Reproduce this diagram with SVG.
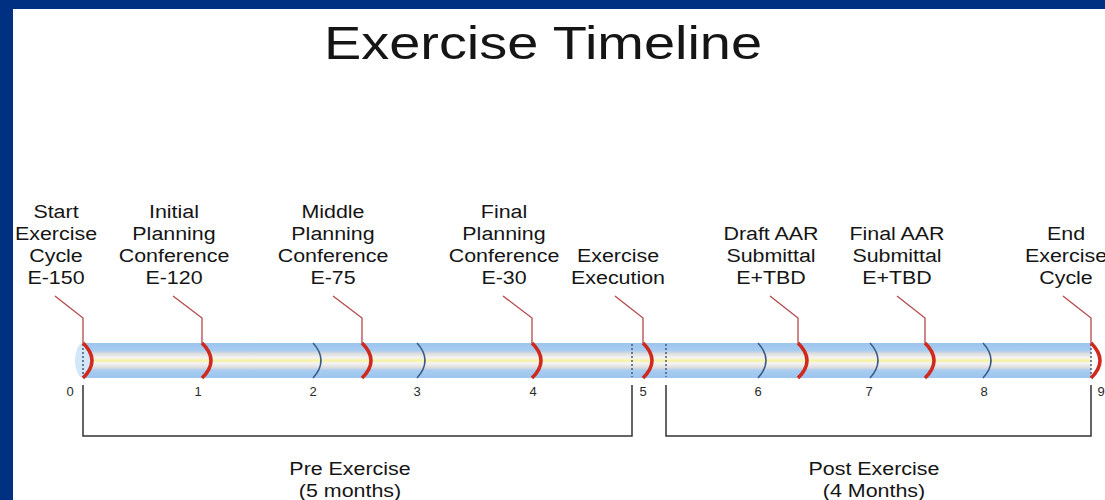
<svg xmlns="http://www.w3.org/2000/svg" width="1105" height="500" viewBox="0 0 1105 500">
<defs>
<linearGradient id="tube" x1="0" y1="0" x2="0" y2="1">
<stop offset="0" stop-color="#9cc4ee"/>
<stop offset="0.22" stop-color="#a9cdf0"/>
<stop offset="0.3" stop-color="#dddddd"/>
<stop offset="0.42" stop-color="#f4f4f4"/>
<stop offset="0.5" stop-color="#f6f2a4"/>
<stop offset="0.58" stop-color="#f4f4f4"/>
<stop offset="0.7" stop-color="#dddddd"/>
<stop offset="0.78" stop-color="#a9cdf0"/>
<stop offset="1" stop-color="#9cc4ee"/>
</linearGradient>
<path id="redArc" d="M0,343 Q18,360.5 0,378"/>
<path id="blueArc" d="M0,343 Q16,360.5 0,378"/>
</defs>
<style>
text{font-family:"Liberation Sans",Arial,sans-serif;fill:#151515;text-anchor:middle}
.lbl{font-size:18px}
.num{font-size:13px;fill:#2a2a2a}
.title{font-size:47px}
.red{fill:none;stroke:#d02a1f;stroke-width:3.6}
.blue{fill:none;stroke:#3b5a85;stroke-width:1.5}
.lead{fill:none;stroke:#b5484a;stroke-width:1.3}
.dot{stroke:#4a5a7a;stroke-width:1.5;stroke-dasharray:2 2}
.brk{fill:none;stroke:#333;stroke-width:1.5}
</style>
<rect width="1105" height="500" fill="#ffffff"/>
<rect x="0" y="0" width="1105" height="9" fill="#003082"/>
<rect x="0" y="0" width="13" height="500" fill="#003082"/>

<g id="title" transform="translate(543 0) scale(1.19 1)"><text class="title" x="0" y="59">Exercise Timeline</text></g>

<g id="timeline">
<rect x="83" y="343" width="1008" height="35" fill="url(#tube)"/>
<ellipse cx="83" cy="360.5" rx="8" ry="17.5" fill="#d2e7f7"/>
<line class="dot" x1="83" y1="344" x2="83" y2="377"/>
<line class="dot" x1="632" y1="344" x2="632" y2="377"/>
<line class="dot" x1="666" y1="344" x2="666" y2="377"/>
<line class="dot" x1="1091" y1="344" x2="1091" y2="377"/>
<use href="#blueArc" class="blue" x="313"/>
<use href="#blueArc" class="blue" x="417"/>
<use href="#blueArc" class="blue" x="758"/>
<use href="#blueArc" class="blue" x="870"/>
<use href="#blueArc" class="blue" x="983"/>
</g>

<g id="months">
<text class="num" x="70" y="396">0</text>
<text class="num" x="198" y="396">1</text>
<text class="num" x="313" y="396">2</text>
<text class="num" x="417" y="396">3</text>
<text class="num" x="533" y="396">4</text>
<text class="num" x="643" y="396">5</text>
<text class="num" x="758" y="396">6</text>
<text class="num" x="869" y="396">7</text>
<text class="num" x="984" y="396">8</text>
<text class="num" x="1101" y="396">9</text>
</g>

<g id="connectors">
<polyline class="lead" points="55,296 83,318 83,343"/>
<polyline class="lead" points="173,296 202,318 202,343"/>
<polyline class="lead" points="333,296 362,318 362,343"/>
<polyline class="lead" points="503,296 532,318 532,343"/>
<polyline class="lead" points="615,296 643,318 643,343"/>
<polyline class="lead" points="770,296 798,318 798,343"/>
<polyline class="lead" points="897,296 925,318 925,343"/>
<polyline class="lead" points="1063,296 1091,318 1091,343"/>
</g>

<g id="m-start">
<use href="#redArc" class="red" x="83"/>
<g transform="translate(56 0) scale(1.19 1)">
<text class="lbl" x="0" y="218">Start</text>
<text class="lbl" x="0" y="240">Exercise</text>
<text class="lbl" x="0" y="262">Cycle</text>
<text class="lbl" x="0" y="284">E-150</text>
</g>
</g>

<g id="m-initial">
<use href="#redArc" class="red" x="202"/>
<g transform="translate(174 0) scale(1.19 1)">
<text class="lbl" x="0" y="218">Initial</text>
<text class="lbl" x="0" y="240">Planning</text>
<text class="lbl" x="0" y="262">Conference</text>
<text class="lbl" x="0" y="284">E-120</text>
</g>
</g>

<g id="m-middle">
<use href="#redArc" class="red" x="362"/>
<g transform="translate(333 0) scale(1.19 1)">
<text class="lbl" x="0" y="218">Middle</text>
<text class="lbl" x="0" y="240">Planning</text>
<text class="lbl" x="0" y="262">Conference</text>
<text class="lbl" x="0" y="284">E-75</text>
</g>
</g>

<g id="m-final">
<use href="#redArc" class="red" x="532"/>
<g transform="translate(504 0) scale(1.19 1)">
<text class="lbl" x="0" y="218">Final</text>
<text class="lbl" x="0" y="240">Planning</text>
<text class="lbl" x="0" y="262">Conference</text>
<text class="lbl" x="0" y="284">E-30</text>
</g>
</g>

<g id="m-execution">
<use href="#redArc" class="red" x="643"/>
<g transform="translate(618 0) scale(1.19 1)">
<text class="lbl" x="0" y="262">Exercise</text>
<text class="lbl" x="0" y="284">Execution</text>
</g>
</g>

<g id="m-draft">
<use href="#redArc" class="red" x="798"/>
<g transform="translate(771 0) scale(1.19 1)">
<text class="lbl" x="0" y="240">Draft AAR</text>
<text class="lbl" x="0" y="262">Submittal</text>
<text class="lbl" x="0" y="284">E+TBD</text>
</g>
</g>

<g id="m-finalaar">
<use href="#redArc" class="red" x="925"/>
<g transform="translate(897 0) scale(1.19 1)">
<text class="lbl" x="0" y="240">Final AAR</text>
<text class="lbl" x="0" y="262">Submittal</text>
<text class="lbl" x="0" y="284">E+TBD</text>
</g>
</g>

<g id="m-end">
<use href="#redArc" class="red" x="1091"/>
<g transform="translate(1066 0) scale(1.19 1)">
<text class="lbl" x="0" y="240">End</text>
<text class="lbl" x="0" y="262">Exercise</text>
<text class="lbl" x="0" y="284">Cycle</text>
</g>
</g>

<g id="pre">
<polyline class="brk" points="83,385 83,436 632,436 632,385"/>
<g transform="translate(350 0) scale(1.19 1)">
<text class="lbl" x="0" y="475">Pre Exercise</text>
<text class="lbl" x="0" y="497">(5 months)</text>
</g>
</g>

<g id="post">
<polyline class="brk" points="666,385 666,436 1091,436 1091,385"/>
<g transform="translate(874 0) scale(1.19 1)">
<text class="lbl" x="0" y="475">Post Exercise</text>
<text class="lbl" x="0" y="497">(4 Months)</text>
</g>
</g>
</svg>
